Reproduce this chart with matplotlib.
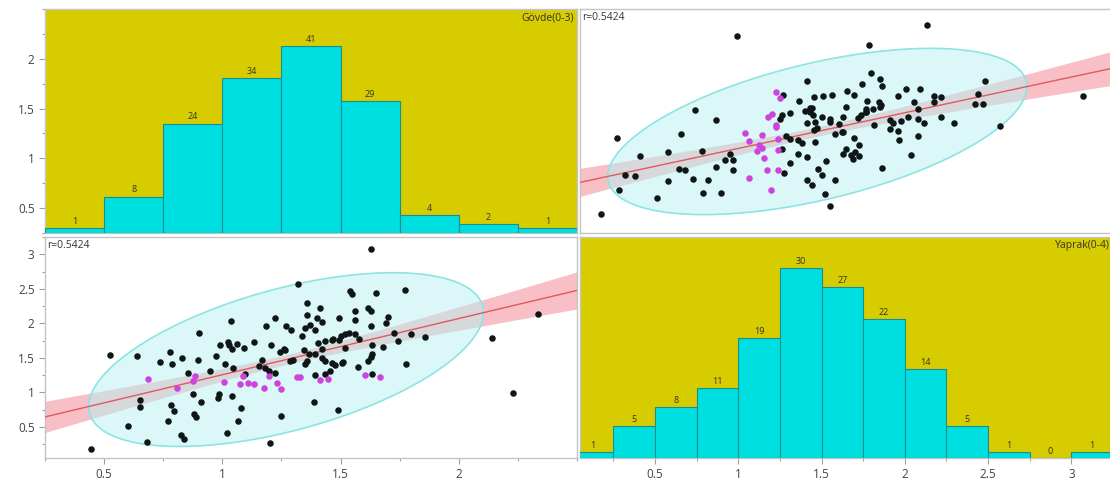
import numpy as np
import matplotlib.pyplot as plt
from matplotlib.ticker import MultipleLocator

plt.rcParams['font.family'] = ['Open Sans', 'DejaVu Sans']

# histogram bins
govde_edges = [0.25, 0.5, 0.75, 1.0, 1.25, 1.5, 1.75, 2.0, 2.25, 2.5]
govde_counts = [1, 8, 24, 34, 41, 29, 4, 2, 1]
yaprak_edges = [0.0, 0.25, 0.5, 0.75, 1.0, 1.25, 1.5, 1.75, 2.0, 2.25, 2.5, 2.75, 3.0, 3.25]
yaprak_counts = [1, 5, 8, 11, 19, 30, 27, 22, 14, 5, 1, 0, 1]

govde_lim = (0.25, 2.5)
yaprak_lim = (0.05, 3.25)
govde_ticks = [0.5, 1, 1.5, 2]
yaprak_ticks = [0.5, 1, 1.5, 2, 2.5, 3]

# scatter points, Gövde vs Yaprak (black)
govde_pts = [
    0.445, 0.524, 0.603, 0.638, 0.65, 0.65, 0.682, 0.737, 0.77, 0.785, 0.797, 0.824, 0.837,
    0.88, 0.888, 1.02, 1.066, 1.078, 1.20, 1.248, 1.489, 2.14, 2.23, 2.335, 1.628,
    0.90, 1.037, 1.224, 1.184, 0.78, 0.786, 0.83, 0.897, 0.855, 1.03, 1.04, 1.023, 1.06, 1.09,
    0.974, 1.012, 1.045, 1.132, 1.207, 1.167, 1.153, 1.196, 1.224, 0.949, 1.242, 1.263, 1.285,
    1.27, 1.29, 1.337, 1.344, 1.35, 1.358, 1.358, 1.415, 1.40, 1.42, 1.35, 1.37, 1.39, 1.405,
    1.436, 1.464, 1.492, 1.50, 1.52, 1.492, 1.52, 1.365, 1.393, 1.42, 1.436, 1.464, 1.478,
    1.506, 1.457, 1.436, 1.393, 1.542, 1.549, 1.648, 1.772, 1.563, 1.563, 1.617, 1.63, 1.627,
    1.70, 1.693, 1.577, 1.634, 1.68, 1.725, 1.744, 1.796, 1.857, 1.634, 1.627, 1.617, 1.574,
    1.775, 1.634, 0.878, 0.984, 0.98, 1.04, 0.91, 1.386, 1.32, 1.097,
    1.18, 1.36, 1.42, 1.536, 1.563, 1.51, 0.99, 1.26, 1.30, 1.47,
]
yaprak_pts = [
    0.178, 1.548, 0.51, 1.52, 0.894, 0.79, 0.284, 1.44, 0.58, 0.82, 0.73, 0.38, 0.32,
    0.68, 0.644, 0.413, 0.58, 0.78, 0.274, 0.654, 0.74, 1.786, 0.99, 2.135, 3.07,
    1.862, 2.04, 2.079, 1.968, 1.58, 1.41, 1.50, 1.476, 1.274, 1.68, 1.63, 1.727, 1.70, 1.645,
    1.525, 1.414, 1.356, 1.727, 1.693, 1.462, 1.38, 1.31, 1.284, 1.31, 1.583, 1.62, 1.452,
    1.96, 1.91, 1.814, 1.607, 1.414, 2.295, 2.117, 2.22, 2.08, 2.02, 1.93, 1.98, 1.91, 1.717,
    1.74, 1.765, 1.765, 1.81, 1.85, 2.08, 1.645, 1.55, 1.55, 1.50, 1.45, 1.43, 1.40,
    1.43, 1.31, 1.26, 1.25, 2.47, 2.42, 2.44, 2.48, 2.175, 2.055, 2.22, 2.175, 1.96,
    2.09, 2.006, 1.775, 1.693, 1.655, 1.862, 1.742, 1.85, 1.80, 1.563, 1.51, 1.452, 1.366,
    1.414, 1.27, 0.97, 0.97, 0.92, 0.95, 0.865, 0.865, 2.57, 1.26,
    1.356, 1.46, 1.63, 1.86, 1.846, 1.44, 1.69, 1.63, 1.47, 1.77,
]
# selected rows (purple)
govde_sel = [0.685, 0.807, 0.878, 0.885, 1.005, 1.076, 1.086, 1.108, 1.132, 1.175,
             1.196, 1.231, 1.25, 1.316, 1.33, 1.415, 1.447, 1.605, 1.665]
yaprak_sel = [1.197, 1.067, 1.17, 1.236, 1.154, 1.115, 1.236, 1.14, 1.125, 1.067,
              1.236, 1.14, 1.043, 1.226, 1.226, 1.18, 1.20, 1.25, 1.226]

YELLOW = '#D6CC00'
CYAN = '#00DFDF'
FRAME = '#C4C4C4'


def style(ax):
    for sp in ax.spines.values():
        sp.set_color(FRAME)
        sp.set_linewidth(1)
    ax.tick_params(which='both', direction='out', color='#A0A0A0', labelcolor='#444444',
                   labelsize=8.5, width=0.8)
    ax.tick_params(which='major', length=4)
    ax.tick_params(which='minor', length=2.5)


def hist_panel(ax, edges, counts, top, label):
    ax.set_facecolor(YELLOW)
    h = ax.twinx()
    h.set_ylim(0, top)
    h.set_yticks([])
    for sp in h.spines.values():
        sp.set_visible(False)
    h.bar(edges[:-1], counts, width=np.diff(edges), align='edge', color=CYAN,
          edgecolor='#1E8C8C', linewidth=0.8, zorder=2)
    for left, w, c in zip(edges[:-1], np.diff(edges), counts):
        h.annotate(str(c), (left + w / 2, c), xytext=(0, 1.5), textcoords='offset points',
                   ha='center', va='bottom', fontsize=6.5, color='#333333')
    ax.text(0.995, 0.985, label, transform=ax.transAxes, ha='right', va='top',
            fontsize=7.5, color='#333333')


def scatter_panel(ax, x, y, xs_sel, ys_sel, xlim):
    xa = np.concatenate([x, xs_sel])
    ya = np.concatenate([y, ys_sel])
    n = len(xa)
    slope, icpt = np.polyfit(xa, ya, 1)
    xx = np.linspace(xlim[0], xlim[1], 200)
    fit = slope * xx + icpt
    resid = ya - (slope * xa + icpt)
    s = np.sqrt(np.sum(resid ** 2) / (n - 2))
    sxx = np.sum((xa - xa.mean()) ** 2)
    se = 1.977 * s * np.sqrt(1 / n + (xx - xa.mean()) ** 2 / sxx)
    ax.fill_between(xx, fit - se, fit + se, color='#F8C0C6', lw=0, zorder=1)

    # 95% density ellipse
    mean = np.array([xa.mean(), ya.mean()])
    L = np.linalg.cholesky(np.cov(xa, ya))
    t = np.linspace(0, 2 * np.pi, 300)
    pts = L @ (np.vstack([np.cos(t), np.sin(t)]) * np.sqrt(5.991)) + mean[:, None]
    ax.fill(pts[0], pts[1], facecolor='#B8F0F0', alpha=0.5, edgecolor='none', zorder=2)
    ax.plot(pts[0], pts[1], color='#8CE4E4', lw=1.2, zorder=2.5)

    ax.plot(xx, fit, color='#E05A5A', lw=1, zorder=3)
    ax.scatter(x, y, s=22, color='#0E1616', linewidths=0, zorder=4)
    ax.scatter(xs_sel, ys_sel, s=22, color='#CC44DD', linewidths=0, zorder=4)
    ax.text(0.004, 0.985, 'r=0.5424', transform=ax.transAxes, ha='left', va='top',
            fontsize=7.5, color='#333333')


fig = plt.figure(figsize=(11.1, 4.82), dpi=100)
W, H = 1110, 482
left_col = (45 / W, (577 - 45) / W)
right_col = (580 / W, (1113 - 580) / W)
top_row = (1 - 233 / H, (233 - 9) / H)
bot_row = (1 - 458 / H, (458 - 237) / H)

ax_tl = fig.add_axes([left_col[0], top_row[0], left_col[1], top_row[1]])
ax_tr = fig.add_axes([right_col[0], top_row[0], right_col[1], top_row[1]])
ax_bl = fig.add_axes([left_col[0], bot_row[0], left_col[1], bot_row[1]])
ax_br = fig.add_axes([right_col[0], bot_row[0], right_col[1], bot_row[1]])

# top-left: Gövde histogram
ax_tl.set_xlim(govde_lim)
ax_tl.set_ylim(govde_lim)
ax_tl.set_xticks([])
ax_tl.set_yticks(govde_ticks)
ax_tl.yaxis.set_minor_locator(MultipleLocator(0.25))
style(ax_tl)
hist_panel(ax_tl, govde_edges, govde_counts, 49.1, 'Gövde(0-3)')

# top-right: Gövde vs Yaprak
ax_tr.set_xlim(yaprak_lim)
ax_tr.set_ylim(govde_lim)
ax_tr.set_xticks([])
ax_tr.set_yticks([])
style(ax_tr)
scatter_panel(ax_tr, yaprak_pts, govde_pts, yaprak_sel, govde_sel, yaprak_lim)

# bottom-left: Yaprak vs Gövde
ax_bl.set_xlim(govde_lim)
ax_bl.set_ylim(yaprak_lim)
ax_bl.set_xticks(govde_ticks)
ax_bl.set_yticks(yaprak_ticks)
ax_bl.xaxis.set_minor_locator(MultipleLocator(0.25))
ax_bl.yaxis.set_minor_locator(MultipleLocator(0.25))
style(ax_bl)
scatter_panel(ax_bl, govde_pts, yaprak_pts, govde_sel, yaprak_sel, govde_lim)

# bottom-right: Yaprak histogram
ax_br.set_xlim(yaprak_lim)
ax_br.set_yticks([])
ax_br.set_xticks(yaprak_ticks)
ax_br.xaxis.set_minor_locator(MultipleLocator(0.25))
style(ax_br)
hist_panel(ax_br, yaprak_edges, yaprak_counts, 34.9, 'Yaprak(0-4)')
ax_br.set_xlim(yaprak_lim)

for ax in (ax_tl, ax_bl):
    ax.yaxis.set_major_formatter(lambda v, p: f'{v:g}')
for ax in (ax_bl, ax_br):
    ax.xaxis.set_major_formatter(lambda v, p: f'{v:g}')

fig.savefig('out.png', dpi=100)
